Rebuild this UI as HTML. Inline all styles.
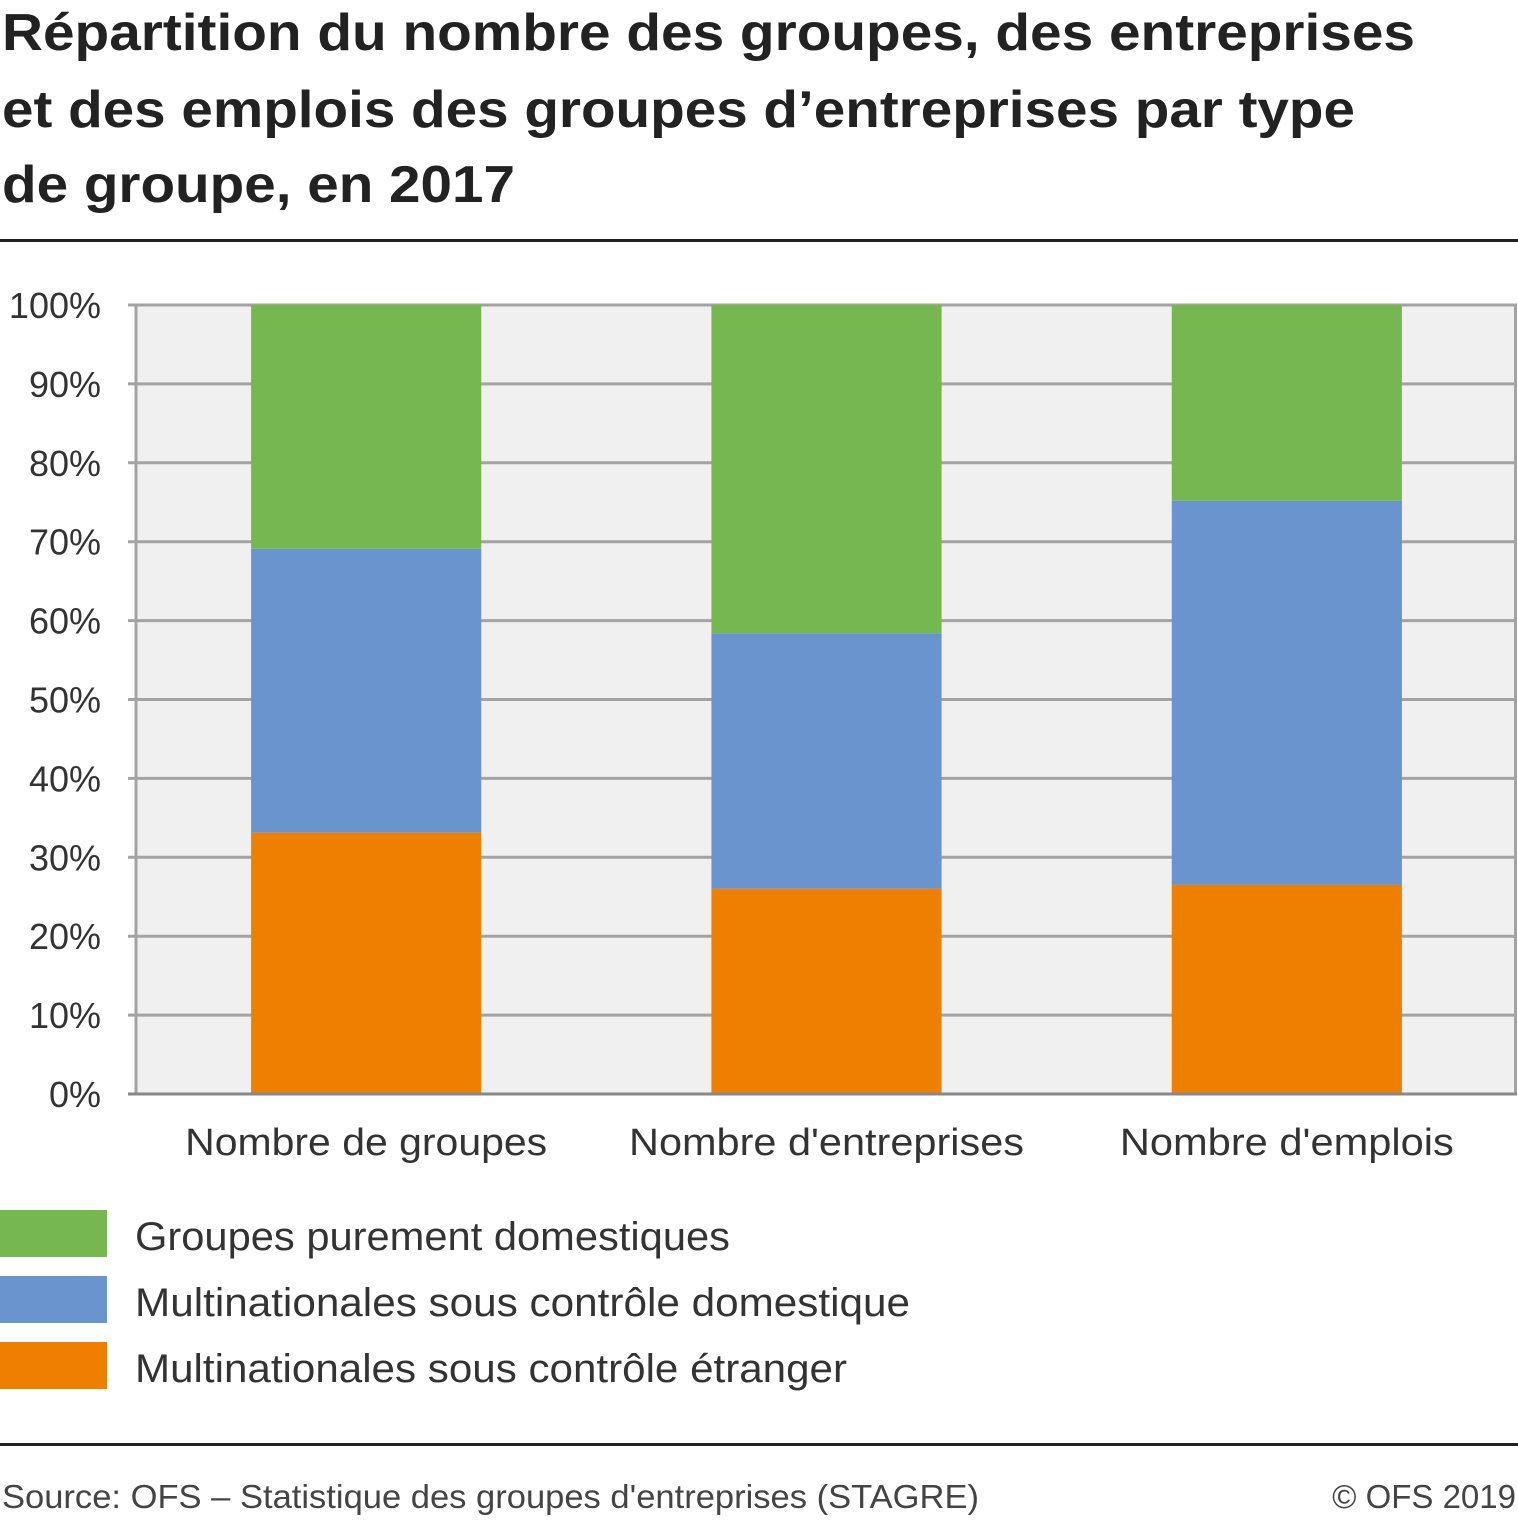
<!DOCTYPE html>
<html><head><meta charset="utf-8"><style>
body{margin:0;background:#fff;}
svg text{font-family:"Liberation Sans",sans-serif;}
</style></head><body>
<svg id="c" width="1518" height="1517" xmlns="http://www.w3.org/2000/svg">
<text x="2" y="50" font-size="52" font-weight="bold" fill="#222" textLength="1413" lengthAdjust="spacingAndGlyphs">Répartition du nombre des groupes, des entreprises</text>
<text x="2" y="127" font-size="52" font-weight="bold" fill="#222" textLength="1353" lengthAdjust="spacingAndGlyphs">et des emplois des groupes d’entreprises par type</text>
<text x="2" y="202" font-size="52" font-weight="bold" fill="#222" textLength="513" lengthAdjust="spacingAndGlyphs">de groupe, en 2017</text>
<rect x="0" y="239" width="1518" height="3" fill="#222"/>
<rect x="136" y="305" width="1381" height="789" fill="#f0f0f0"/>
<g id="grid"></g><g id="bars"></g><g id="labels"></g>
<rect x="0" y="1210" width="107" height="47" fill="#76b84f"/>
<text x="135" y="1250" font-size="40" fill="#333" textLength="595" lengthAdjust="spacingAndGlyphs">Groupes purement domestiques</text>
<rect x="0" y="1276" width="107" height="47" fill="#6a94cd"/>
<text x="135" y="1316" font-size="40" fill="#333" textLength="775" lengthAdjust="spacingAndGlyphs">Multinationales sous contrôle domestique</text>
<rect x="0" y="1342" width="107" height="47" fill="#ef7f00"/>
<text x="135" y="1382" font-size="40" fill="#333" textLength="712" lengthAdjust="spacingAndGlyphs">Multinationales sous contrôle étranger</text>
<rect x="0" y="1443" width="1518" height="3" fill="#222"/>
<text x="2" y="1508" font-size="33" fill="#444" textLength="977" lengthAdjust="spacingAndGlyphs">Source: OFS – Statistique des groupes d'entreprises (STAGRE)</text>
<text x="1516" y="1508" font-size="33" fill="#444" text-anchor="end">© OFS 2019</text>
</svg>
<script>
const categories=["Nombre de groupes","Nombre d'entreprises","Nombre d'emplois"];
const foreignMulti=[33.1,26.0,26.5];
const domesticMulti=[36.0,32.4,48.7];
const domesticGroups=[30.9,41.6,24.8];
const ticks=[0,10,20,30,40,50,60,70,80,90,100];
const labelWidths=[362,395,334];
const NS="http://www.w3.org/2000/svg";
const X0=136,X1=1517,Y0=1094,Y1=305;
const y=v=>Y0-(v/100)*(Y0-Y1);
const bw=(X1-X0)/categories.length;
const xc=i=>X0+bw*(i+0.5);
function mk(t,a,p){const e=document.createElementNS(NS,t);for(const k in a)e.setAttribute(k,a[k]);p.appendChild(e);return e;}
const g=document.getElementById('grid'),b=document.getElementById('bars'),l=document.getElementById('labels');
ticks.forEach(t=>{
 const ln=mk('line',{x1:128,x2:X1,y1:y(t),y2:y(t),stroke:'#a3a3a3','stroke-width':3},g);
 
 
 const tx=mk('text',{x:101,y:y(t)+13,'font-size':36,fill:'#333','text-anchor':'end'},g);
 tx.textContent=t+'%';
 
 
});
[X0,X1-1.5].forEach((xx,i)=>{const v=mk('line',{x1:xx,x2:xx,y1:Y1,y2:Y0,stroke:'#a3a3a3','stroke-width':3},g);
 
 });
const series=[[foreignMulti,'#ef7f00','foreign'],[domesticMulti,'#6a94cd','domestic-multi'],[domesticGroups,'#76b84f','domestic-groups']];
categories.forEach((c,i)=>{
 let base=0;const w=bw/2;
 series.forEach(s=>{
  const v=s[0][i];
  const r=mk('rect',{x:xc(i)-w/2,y:y(base+v),width:w,height:y(base)-y(base+v),fill:s[1]},b);
  
  
  base+=v;
 });
 const t=mk('text',{x:xc(i),y:1155,'font-size':38,fill:'#333','text-anchor':'middle',textLength:labelWidths[i],lengthAdjust:'spacingAndGlyphs'},l);
 t.textContent=c;
 
 
});
const ax=mk('line',{x1:128,x2:X1,y1:Y0,y2:Y0,stroke:'#888','stroke-width':3},l);


</script>
</body></html>
